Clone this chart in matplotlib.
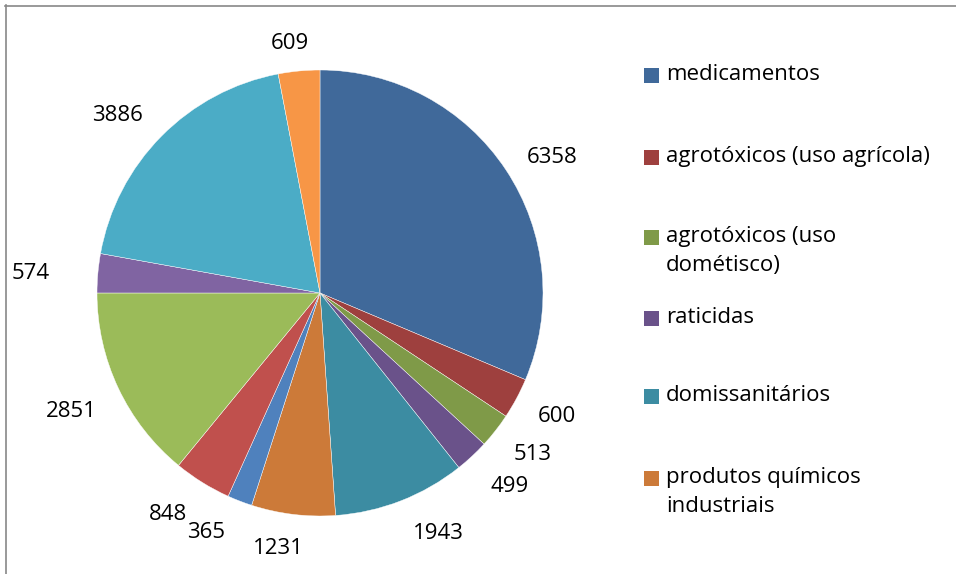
import numpy as np
import matplotlib
matplotlib.use("Agg")
import matplotlib.pyplot as plt
from matplotlib.patches import Rectangle
from matplotlib.lines import Line2D

values = [6358, 600, 513, 499, 1943, 1231, 365, 848, 2851, 574, 3886, 609]
legend_labels = [
    "medicamentos",
    "agrotóxicos (uso agrícola)",
    "agrotóxicos (uso\ndométisco)",
    "raticidas",
    "domissanitários",
    "produtos químicos\nindustriais",
]
colors = [
    "#40699A", "#9E403E", "#7F9A48", "#6A528A", "#3C8CA2", "#CC7A39",
    "#4F81BD", "#C0504D", "#9BBB59", "#8064A2", "#4BACC6", "#F79646",
]

plt.rcParams["font.family"] = ["Open Sans", "DejaVu Sans"]
FS = 16

W, H = 956, 574
fig = plt.figure(figsize=(W / 100, H / 100), dpi=100)
fig.patch.set_facecolor("white")

cx, cy, r = 320, 293, 223
ax = fig.add_axes([(cx - r) / W, (H - cy - r) / H, 2 * r / W, 2 * r / H])
wedges, _ = ax.pie(values, colors=colors, startangle=90, counterclock=False,
                   radius=1.0, wedgeprops=dict(edgecolor="white", linewidth=0.3))
ax.set_xlim(-1, 1)
ax.set_ylim(-1, 1)
ax.set_aspect("auto")
ax.axis("off")

renderer = fig.canvas.get_renderer()

# value labels outside each wedge: the label box sits a fixed gap beyond the rim,
# with small pixel shifts (right, down) to keep crowded labels apart
gap = 20
shift = {0: (8, 13), 1: (4, -1), 2: (6, -1), 3: (11, 2), 4: (24, -2), 5: (-11, 3),
         6: (-21, -1), 7: (-15, 0), 8: (-5, 3), 9: (-28, 4), 10: (-13, 10), 11: (-6, 3)}
for i, (w, v) in enumerate(zip(wedges, values)):
    ang = np.deg2rad((w.theta1 + w.theta2) / 2)
    ux, uy = np.cos(ang), np.sin(ang)
    t = fig.text(0, 0, str(v), ha="center", va="center", fontsize=FS)
    bb = t.get_window_extent(renderer)
    hw, hh = bb.width / 2, bb.height / 2 * 0.8
    d = r + gap + hw * abs(ux) + hh * abs(uy)
    sx, sy = shift.get(i, (0, 0))
    px = cx + d * ux + sx
    py = cy - d * uy + sy
    t.set_position((px / W, (H - py) / H))

# legend: colour squares with text on the right
sq = 15
lx, tx = 644, 666
ly = [75, 157, 237, 318, 396, 478]
for i, lab in enumerate(legend_labels):
    y = ly[i]
    fig.patches.append(Rectangle((lx / W, (H - y - sq / 2) / H), sq / W, sq / H,
                                 transform=fig.transFigure, facecolor=wedges[i].get_facecolor(),
                                 edgecolor="none"))
    fig.text(tx / W, (H - y + 11) / H, lab, ha="left", va="top", fontsize=FS,
             linespacing=1.48, transform=fig.transFigure)

# frame edges
fig.add_artist(Line2D([5.5 / W, 5.5 / W], [0, (H - 5) / H], color="#888888", lw=1.2))
fig.add_artist(Line2D([5 / W, 1], [(H - 5.5) / H, (H - 5.5) / H], color="#888888", lw=1.2))

fig.savefig("out.png", dpi=100)
